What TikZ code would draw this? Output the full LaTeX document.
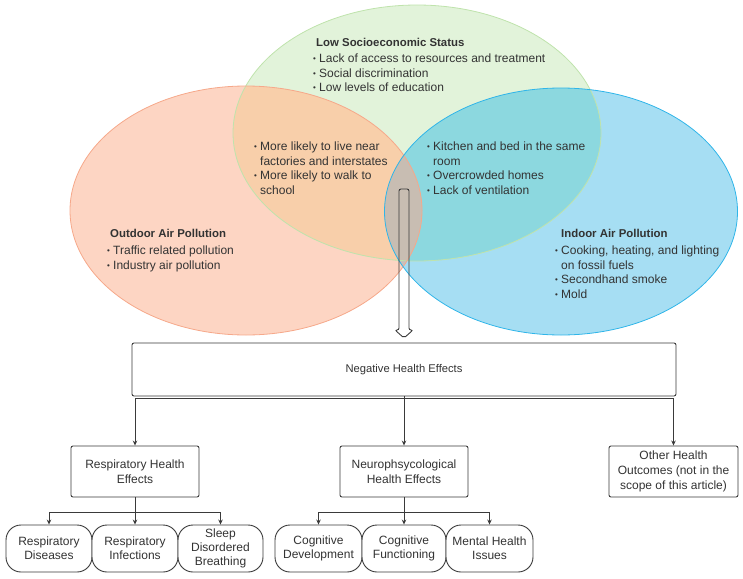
\documentclass[tikz,border=0pt]{standalone}
\usepackage{fontspec}
\setmainfont{Liberation Sans}
\usetikzlibrary{arrows.meta}
\definecolor{ocol}{HTML}{FDD5C3}
\definecolor{oline}{HTML}{F6A88A}
\definecolor{gcol}{HTML}{E2F3DA}
\definecolor{gline}{HTML}{BFE3AC}
\definecolor{bcol}{HTML}{A6DEF3}
\definecolor{bline}{HTML}{2FB5E9}
\definecolor{ogcol}{HTML}{F8CFAA}
\definecolor{gbcol}{HTML}{8CD8DF}
\definecolor{obcol}{HTML}{C7C1BD}
\definecolor{ogbcol}{HTML}{C8BDB2}
\definecolor{tcol}{HTML}{333333}
\definecolor{lcol}{HTML}{3A3A3A}
\newcommand{\bul}{\makebox[6pt][l]{\fontsize{8}{8}\selectfont\raisebox{1pt}{•}}}
\newcommand{\ind}{\hspace*{6pt}}
\begin{document}
\begin{tikzpicture}[x=1pt,y=-1pt,
  txt/.style={text=tcol, align=left, inner sep=0pt, anchor=north west, font=\fontsize{12}{14.7}\selectfont},
  ttl/.style={txt, font=\fontsize{11.4}{14.7}\selectfont\bfseries},
  box/.style={draw=lcol, line width=0.9pt, rounded corners=2pt, fill=white, text=tcol, align=center, inner sep=0pt, font=\fontsize{12}{14.8}\selectfont},
  leaf/.style={box, rounded corners=15pt, minimum height=47pt, minimum width=86pt, font=\fontsize{12}{14}\selectfont},
  conn/.style={draw=lcol, line width=0.9pt, -{Stealth[length=5pt,width=4.5pt]}},
  hollow/.style={draw=lcol, line width=0.9pt, rounded corners=2pt}]
\useasboundingbox (0,0) rectangle (743,578);
% ellipse fills
\fill[ocol] (246,210.5) ellipse [x radius=176, y radius=124.5];
\fill[bcol] (561,211.5) ellipse [x radius=176.5, y radius=123.5];
\fill[gcol] (417,133) ellipse [x radius=184, y radius=128];
\begin{scope}
  \clip (417,133) ellipse [x radius=184, y radius=128];
  \fill[ogcol] (246,210.5) ellipse [x radius=176, y radius=124.5];
  \fill[gbcol] (561,211.5) ellipse [x radius=176.5, y radius=123.5];
\end{scope}
\begin{scope}
  \clip (246,210.5) ellipse [x radius=176, y radius=124.5];
  \fill[obcol] (561,211.5) ellipse [x radius=176.5, y radius=123.5];
  \clip (561,211.5) ellipse [x radius=176.5, y radius=123.5];
  \fill[ogbcol] (417,133) ellipse [x radius=184, y radius=128];
\end{scope}
% borders
\draw[gline, line width=0.8pt] (417,133) ellipse [x radius=184, y radius=128];
\draw[oline, line width=0.8pt] (246,210.5) ellipse [x radius=176, y radius=124.5];
\draw[bline, line width=0.8pt] (561,211.5) ellipse [x radius=176.5, y radius=123.5];
% texts
\node[ttl] (lsst) at (316,38.5) {Low Socioeconomic Status};
\node[txt] (lssb) at (313,53.5) {\bul Lack of access to resources and treatment\\\bul Social discrimination\\\bul Low levels of education};
\node[txt] (ogb) at (254,141.5) {\bul More likely to live near\\\ind factories and interstates\\\bul More likely to walk to\\\ind school};
\node[txt] (gbb) at (427,141.5) {\bul Kitchen and bed in the same\\\ind room\\\bul Overcrowded homes\\\bul Lack of ventilation};
\node[ttl] (outt) at (110,229.5) {Outdoor Air Pollution};
\node[txt] (outb) at (107,245.5) {\bul Traffic related pollution\\\bul Industry air pollution};
\node[ttl] (indt) at (561,229.5) {Indoor Air Pollution};
\node[txt] (indb) at (555,245.5) {\bul Cooking, heating, and lighting\\\ind on fossil fuels\\\bul Secondhand smoke\\\bul Mold};
% boxes
\node[box, minimum width=544pt, minimum height=53pt, font=\fontsize{11.2}{14}\selectfont] (neg) at (404,369.5) {Negative Health Effects};
\node[box, minimum width=128pt, minimum height=51pt] (resp) at (135,471.5) {Respiratory Health\\Effects};
\node[box, minimum width=128pt, minimum height=51pt] (neuro) at (404,471.5) {Neurophsycological\\Health Effects};
\node[box, minimum width=129pt, minimum height=51pt] (other) at (673.5,471.5) {Other Health\\Outcomes (not in the\\scope of this article)};
\node[leaf] (rd) at (49,548.5) {Respiratory\\Diseases};
\node[leaf] (ri) at (135,548.5) {Respiratory\\Infections};
\node[leaf, minimum width=85pt] (sdb) at (220.5,548.5) {Sleep\\Disordered\\Breathing};
\node[leaf, minimum width=87pt] (cd) at (318.5,548.5) {Cognitive\\Development};
\node[leaf, minimum width=84pt] (cf) at (404,548.5) {Cognitive\\Functioning};
\node[leaf, minimum width=87pt] (mh) at (489.5,548.5) {Mental Health\\Issues};
% hollow arrow
\coordinate (hatip) at (404,338);
\draw[hollow] (hatip) -- ++(-9,-8) -- ++(4,0) -- ++(0,-141) -- ++(10,0) -- ++(0,141) -- ++(4,0) -- cycle;
% connectors
\coordinate (nj) at ([yshift=-1.5pt]neg.south);
\draw[conn] (neg.south) -- (neuro.north);
\draw[conn] (nj) -| (resp.north);
\draw[conn] (nj) -| (other.north);
\coordinate (rj) at (135,512);
\draw[conn] (resp.south) -- (rj) -| (rd.north);
\draw[conn] (rj) -- (ri.north);
\draw[conn] (rj) -| (sdb.north);
\coordinate (cj) at (404,512);
\draw[conn] (neuro.south) -- (cj) -| (cd.north);
\draw[conn] (cj) -- (cf.north);
\draw[conn] (cj) -| (mh.north);
\end{tikzpicture}
\end{document}
